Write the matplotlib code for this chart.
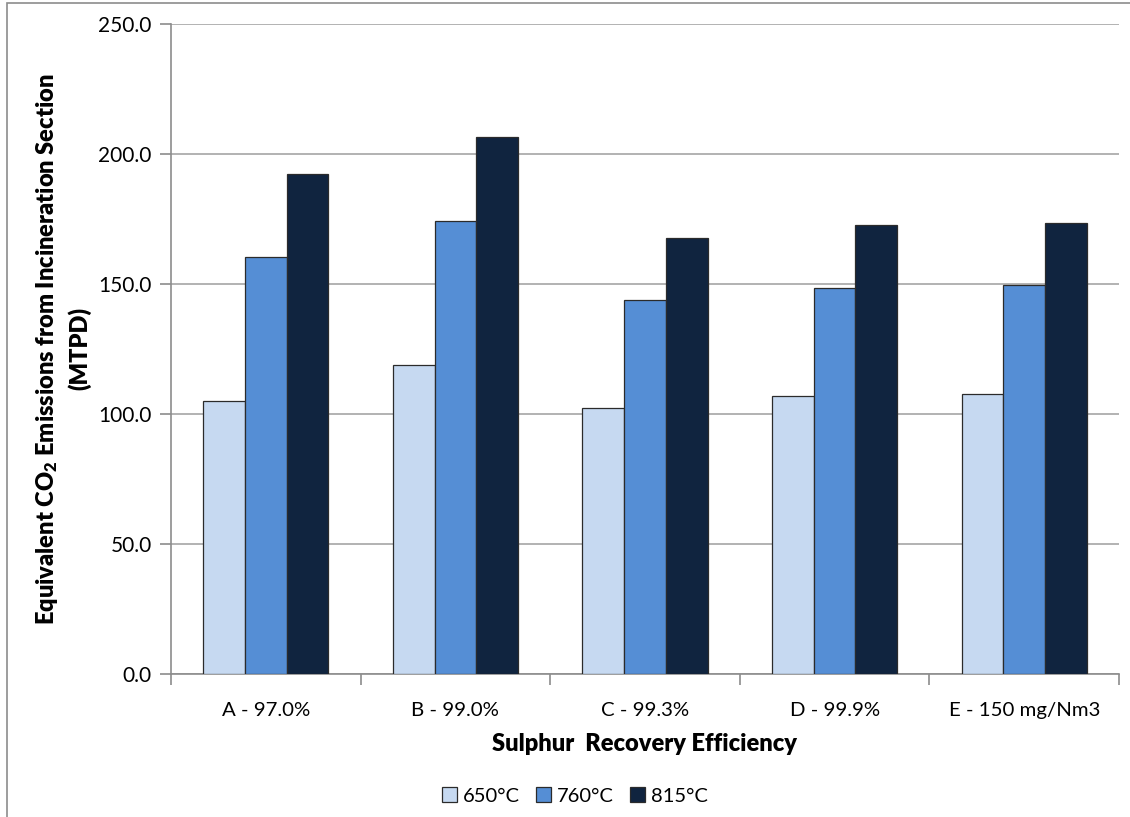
import numpy as np
import matplotlib
matplotlib.use('Agg')
import matplotlib.pyplot as plt
import matplotlib.patches as mpatches

plt.rcParams['font.family'] = ['Lato', 'DejaVu Sans']
plt.rcParams['mathtext.default'] = 'regular'

# data
categories = ['A - 97.0%', 'B - 99.0%', 'C - 99.3%', 'D - 99.9%', 'E - 150 mg/Nm3']
series = ['650°C', '760°C', '815°C']
v650 = [105.0, 118.8, 102.3, 106.9, 107.7]
v760 = [160.4, 174.2, 143.8, 148.5, 149.6]
v815 = [192.3, 206.5, 167.7, 172.7, 173.5]
colors = ['#c6d9f1', '#558ed5', '#10243f']

fig = plt.figure(figsize=(11.3, 8.17), dpi=100)
ax = fig.add_axes([171/1130, 1 - 674/817, (1119-171)/1130, (674-24)/817])

# outer chart frame (partly cut off in the source)
fig.add_artist(mpatches.Rectangle((7/1130, -0.05), 1.2, (817-3)/817 + 0.05,
               transform=fig.transFigure, fill=False, edgecolor='#8c8c8c', lw=1.2))

x = np.arange(len(categories))
w = 0.22
for i, (vals, c) in enumerate(zip([v650, v760, v815], colors)):
  ax.bar(x + (i - 1) * w, vals, w, color=c, edgecolor='#2b2b2b', linewidth=0.9,
         label=series[i], zorder=3)

ax.set_xlim(-0.5, len(categories) - 0.5)
ax.set_ylim(0, 250)
ax.set_yticks(np.arange(0, 251, 50))
ax.set_yticklabels(['%.1f' % t for t in np.arange(0, 251, 50)], fontsize=15)
ax.yaxis.grid(True, color='#a6a6a6', linewidth=1.2, zorder=0)

ax.set_xticks(x)
ax.set_xticklabels(categories, fontsize=14.7)
ax.tick_params(axis='x', which='major', length=0, pad=20)
ax.set_xticks(np.arange(-0.5, len(categories), 1), minor=True)
ax.tick_params(axis='x', which='minor', length=8, color='#8c8c8c', width=1.2)
ax.tick_params(axis='y', length=8, color='#8c8c8c', width=1.2, pad=6)

for s in ['top', 'right']:
  ax.spines[s].set_visible(False)
for s in ['left', 'bottom']:
  ax.spines[s].set_color('#8c8c8c')
  ax.spines[s].set_linewidth(1.2)

ax.set_ylabel('Equivalent CO$_2$ Emissions from Incineration Section\n(MTPD)',
              fontsize=17, fontweight='heavy', labelpad=5, linespacing=1.4)
ax.set_xlabel('Sulphur  Recovery Efficiency', fontsize=17, fontweight='heavy', labelpad=10)

fig.legend(loc='center', bbox_to_anchor=(575/1130, 1 - 796/817), ncol=3, frameon=False,
           fontsize=14.5, handlelength=0.75, handleheight=0.75, handletextpad=0.3,
           columnspacing=0.8)

fig.savefig('out.png', dpi=100)
